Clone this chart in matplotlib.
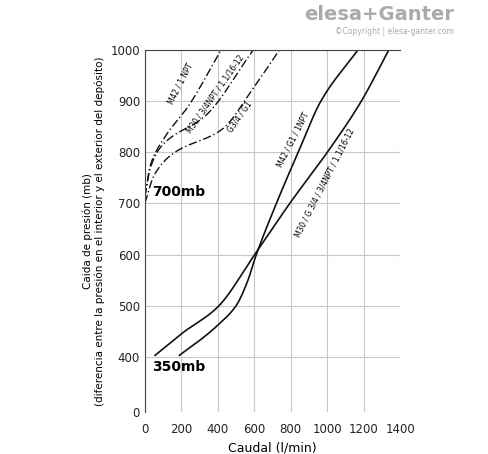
import matplotlib
matplotlib.use("Agg")
import matplotlib.pyplot as plt
import numpy as np

# solid curves (350mb)
m42_x = [189, 300, 400, 500, 560, 611, 722, 850, 963, 1167]
m42_y = [403, 432, 462, 500, 545, 600, 701, 808, 899, 1000]
m30_x = [56, 200, 398, 602, 796, 1000, 1185, 1337]
m30_y = [403, 445, 497, 600, 701, 800, 899, 1000]
# dash-dot curves (700mb)
d1_x = [0, 30, 102, 241, 417]
d1_y = [714, 775, 826, 892, 1000]
d2_x = [0, 30, 93, 333, 593]
d2_y = [714, 770, 813, 872, 1000]
d3_x = [0, 50, 148, 426, 593, 737]
d3_y = [701, 755, 796, 846, 925, 1000]

def smooth(x, y, n=300):
    # monotone cubic (Fritsch-Carlson) interpolation
    x = np.asarray(x, float); y = np.asarray(y, float)
    h = np.diff(x); d = np.diff(y) / h
    m = np.zeros_like(y)
    m[0], m[-1] = d[0], d[-1]
    for i in range(1, len(x) - 1):
        if d[i-1] * d[i] > 0:
            w1 = 2*h[i] + h[i-1]; w2 = h[i] + 2*h[i-1]
            m[i] = (w1 + w2) / (w1/d[i-1] + w2/d[i])
    xx = np.linspace(x[0], x[-1], n)
    idx = np.clip(np.searchsorted(x, xx) - 1, 0, len(x) - 2)
    t = (xx - x[idx]) / h[idx]
    h00 = 2*t**3 - 3*t**2 + 1; h10 = t**3 - 2*t**2 + t
    h01 = -2*t**3 + 3*t**2; h11 = t**3 - t**2
    yy = h00*y[idx] + h10*h[idx]*m[idx] + h01*y[idx+1] + h11*h[idx]*m[idx+1]
    return xx, yy

fig = plt.figure(figsize=(4.88, 4.54), dpi=100)
ax = fig.add_axes([0.297, 0.0925, 0.523, 0.797])
ax.set_xlim(0, 1400)
ax.set_ylim(292, 1000)
ax.set_xticks(range(0, 1401, 200))
ax.set_xticklabels(['0', '200', '400', '600', '800', '1000', '1200', '1400'])
ax.set_yticks([292, 400, 500, 600, 700, 800, 900, 1000])
ax.set_yticklabels(['0', '400', '500', '600', '700', '800', '900', '1000'])
ax.tick_params(length=0, labelsize=8.5, colors='#222')
ax.tick_params(axis='x', pad=8)
ax.grid(True, color='#c8c8c8', lw=0.8)
for s in ['bottom', 'right']:
    ax.spines[s].set_visible(False)
for s in ['left', 'top']:
    ax.spines[s].set_color('#444')

for xs, ys in [(m42_x, m42_y), (m30_x, m30_y)]:
    a, b = smooth(xs, ys)
    ax.plot(a, b, color='#111', lw=1.2)
for xs, ys in [(d1_x, d1_y), (d2_x, d2_y), (d3_x, d3_y)]:
    a, b = smooth(xs, ys)
    ax.plot(a, b, color='#111', lw=1.0, linestyle=(0, (6, 2, 1, 2)))

ax.text(40, 715, '700mb', fontsize=10, fontweight='bold')
ax.text(40, 372, '350mb', fontsize=10, fontweight='bold')
kw = dict(fontsize=6, ha='center', va='center', fontstretch='condensed')
ax.text(195, 935, 'M42 / 1 NPT', rotation=63, **kw)
ax.text(385, 915, 'M30 / 3/4NPT / 1.1/16-12', rotation=55, **kw)
ax.text(520, 870, 'G3/4 / G1', rotation=55, **kw)
ax.text(810, 825, 'M42 / G1 / 1NPT', rotation=63, **kw)
ax.text(985, 740, 'M30 / G 3/4 / 3/4NPT / 1.1/16-12', rotation=63, **kw)

ax.set_xlabel('Caudal (l/min)', fontsize=9)
ax.set_ylabel('Caida de presión (mb)\n(diferencia entre la presión en el interior y el exterior del depósito)', fontsize=7.5)

fig.text(0.93, 0.955, 'elesa+Ganter', fontsize=14, color='#aaa', ha='right', fontweight='bold')
fig.text(0.93, 0.925, '©Copyright | elesa-ganter.com', fontsize=5.5, color='#aaa', ha='right')
fig.savefig('out.png', dpi=100)
